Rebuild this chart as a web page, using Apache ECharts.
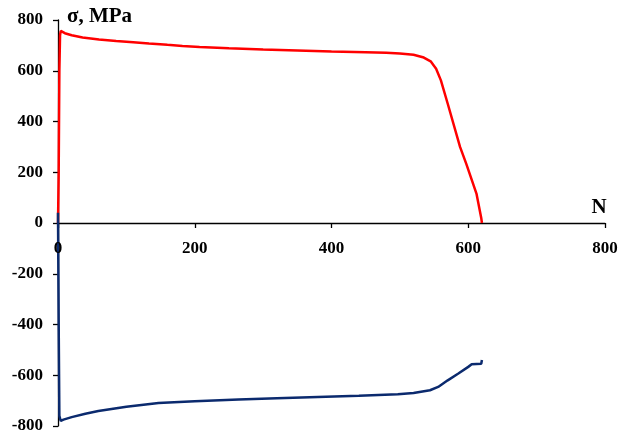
<!DOCTYPE html>
<html>
<head>
<meta charset="utf-8">
<script src="https://cdn.jsdelivr.net/npm/echarts@6/dist/echarts.min.js"></script>
<style>html,body{margin:0;padding:0;background:#fff}#c{width:624px;height:440px}</style>
</head>
<body>
<div id="c"></div>
<script>
// Tension branch (red)
var redN = [0, 1, 2, 3, 4, 6, 10, 20, 36, 60, 85, 110, 133, 160, 182, 207, 250, 300, 350, 400, 450, 480, 500, 520, 535, 545, 553, 560, 570, 588, 597, 612, 619, 620];
var redS = [0, 200, 600, 740, 757, 752, 748, 740, 731, 723, 717, 712, 707, 702, 698, 694, 689, 684, 680, 676, 673, 671, 668, 663, 652, 637, 608, 562, 470, 300, 234, 116, 20, 0];
// Compression branch (blue)
var blueN = [0, 1, 2, 4, 8, 20, 40, 59, 100, 147, 200, 264, 320, 380, 440, 497, 520, 544, 556, 570, 585, 600, 605, 612, 619, 620];
var blueS = [40, -400, -760, -780, -775, -765, -752, -741, -724, -709, -702, -696, -691, -686, -681, -675, -670, -659, -646, -620, -594, -567, -557, -556, -555, -540];
var xTicks = [0, 200, 400, 600, 800];
var yTicks = [-800, -600, -400, -200, 0, 200, 400, 600, 800];

function pairs(a, b) { return a.map(function (v, i) { return [v, b[i]]; }); }

var font = '"Liberation Serif", "Times New Roman", serif';
var chart = echarts.init(document.getElementById('c'));
var option = {
  animation: false,
  backgroundColor: '#fff',
  grid: { left: 58, right: 19, top: 20, bottom: 14, containLabel: false, outerBoundsMode: 'none' },
  xAxis: {
    type: 'value', min: xTicks[0], max: xTicks[xTicks.length - 1], interval: 200,
    axisLine: { show: true, onZero: true, lineStyle: { color: '#000', width: 1.3 } },
    axisTick: { show: true, inside: false, length: 5, lineStyle: { color: '#000', width: 1.3 } },
    axisLabel: { show: false },
    splitLine: { show: false }
  },
  yAxis: {
    type: 'value', min: yTicks[0], max: yTicks[yTicks.length - 1], interval: 200,
    axisLine: { show: true, onZero: false, lineStyle: { color: '#000', width: 1.3 } },
    axisTick: { show: true, inside: false, length: 5, lineStyle: { color: '#000', width: 1.3 } },
    axisLabel: { show: true, margin: 15, color: '#000', fontFamily: font, fontWeight: 'bold', fontSize: 17 },
    splitLine: { show: false }
  },
  series: [
    { type: 'line', data: pairs(redN, redS), showSymbol: false, lineStyle: { color: '#ff0000', width: 2.5 }, z: 2 },
    { type: 'line', data: pairs(blueN, blueS), showSymbol: false, lineStyle: { color: '#0b2a6e', width: 2.5 }, z: 3 }
  ]
};
chart.setOption(option);

// x tick labels placed under the zero line, positions from the library's scales
var g = [
  { type: 'text', left: 67, top: 6, style: { text: 'σ, MPa', fill: '#000', font: 'bold 21px ' + font } }
];
xTicks.forEach(function (t) {
  var p = chart.convertToPixel({ gridIndex: 0 }, [t, 0]);
  g.push({ type: 'text', x: p[0], y: p[1] + 26, style: { text: String(t), fill: '#000', font: 'bold 17px ' + font, textAlign: 'center', textVerticalAlign: 'middle' }, z: 10 });
});
var pN = chart.convertToPixel({ gridIndex: 0 }, [xTicks[xTicks.length - 1], 0]);
g.push({ type: 'text', x: pN[0] - 6, y: pN[1] - 15, style: { text: 'N', fill: '#000', font: 'bold 21px ' + font, textAlign: 'center', textVerticalAlign: 'middle' }, z: 10 });
chart.setOption({ graphic: g });
</script>
</body>
</html>
